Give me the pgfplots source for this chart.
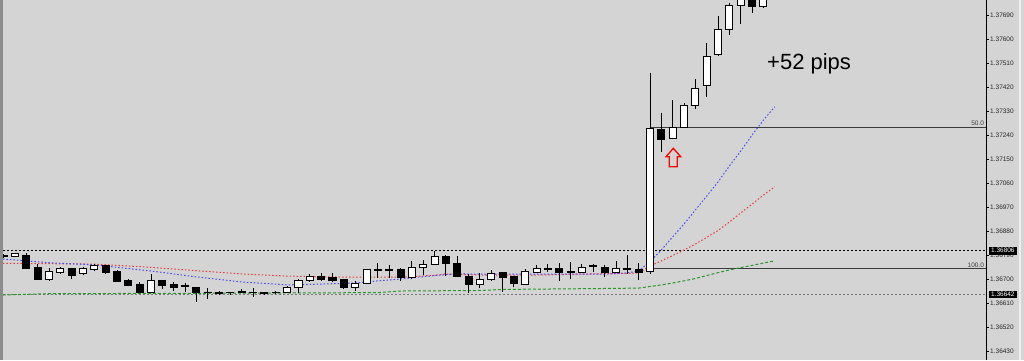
\documentclass[border=0pt]{standalone}
\usepackage{pgfplots}
\usepackage{pgfplotstable}
\pgfplotsset{compat=1.18}
\usepackage{fontspec}
\setmainfont{Liberation Sans}
\definecolor{bg}{RGB}{212,212,212}
\definecolor{leftbar}{RGB}{140,140,140}
\definecolor{fibcol}{RGB}{60,60,60}
\definecolor{mablue}{RGB}{70,70,255}
\definecolor{mared}{RGB}{235,60,60}
\definecolor{magreen}{RGB}{40,150,40}
\definecolor{lvlgray}{RGB}{120,120,120}
% bullish candles: bar index, open, high, low, close
\pgfplotstableread{
k o h l c
0 1.36786 1.36798 1.36783 1.36794
3 1.36700 1.36741 1.36693 1.36730
4 1.36726 1.36745 1.36719 1.36738
6 1.36719 1.36745 1.36715 1.36738
7 1.36734 1.36756 1.36730 1.36749
12 1.36651 1.36719 1.36651 1.36696
18 1.36644 1.36655 1.36640 1.36651
20 1.36648 1.36663 1.36648 1.36655
24 1.36648 1.36674 1.36648 1.36670
25 1.36670 1.36700 1.36648 1.36693
26 1.36696 1.36719 1.36689 1.36708
30 1.36670 1.36693 1.36655 1.36685
31 1.36685 1.36734 1.36685 1.36734
35 1.36704 1.36768 1.36700 1.36745
36 1.36745 1.36771 1.36715 1.36756
37 1.36756 1.36805 1.36756 1.36783
41 1.36681 1.36723 1.36666 1.36700
42 1.36700 1.36734 1.36693 1.36719
45 1.36681 1.36738 1.36681 1.36730
46 1.36726 1.36753 1.36723 1.36738
50 1.36723 1.36756 1.36723 1.36745
53 1.36726 1.36768 1.36726 1.36738
56 1.36727 1.37473 1.36718 1.37263
58 1.37226 1.37371 1.37226 1.37267
59 1.37267 1.37359 1.37267 1.37349
60 1.37350 1.37449 1.37336 1.37416
61 1.37424 1.37584 1.37384 1.37536
62 1.37543 1.37687 1.37536 1.37636
63 1.37636 1.37734 1.37615 1.37725
64 1.37725 1.37784 1.37655 1.37765
66 1.37721 1.37784 1.37716 1.37765
}\bulls
% bearish candles: bar index, open, high, low, close
\pgfplotstableread{
k o h l c
-1 1.36790 1.36794 1.36779 1.36783
1 1.36790 1.36798 1.36741 1.36741
2 1.36745 1.36756 1.36700 1.36700
5 1.36741 1.36741 1.36700 1.36715
8 1.36749 1.36749 1.36719 1.36726
9 1.36730 1.36734 1.36689 1.36689
10 1.36693 1.36700 1.36674 1.36674
11 1.36678 1.36689 1.36648 1.36648
13 1.36696 1.36696 1.36663 1.36674
14 1.36678 1.36689 1.36655 1.36670
15 1.36675 1.36685 1.36651 1.36673
16 1.36670 1.36670 1.36614 1.36648
17 1.36651 1.36666 1.36625 1.36648
19 1.36651 1.36651 1.36640 1.36648
21 1.36651 1.36666 1.36633 1.36648
22 1.36648 1.36651 1.36640 1.36644
23 1.36651 1.36655 1.36644 1.36648
27 1.36708 1.36723 1.36693 1.36700
28 1.36704 1.36723 1.36689 1.36696
29 1.36700 1.36700 1.36663 1.36670
32 1.36735 1.36760 1.36704 1.36733
33 1.36735 1.36753 1.36704 1.36733
34 1.36734 1.36741 1.36693 1.36704
38 1.36783 1.36790 1.36711 1.36760
39 1.36760 1.36786 1.36711 1.36711
40 1.36708 1.36719 1.36648 1.36681
43 1.36723 1.36723 1.36651 1.36704
44 1.36708 1.36708 1.36670 1.36685
47 1.36741 1.36756 1.36726 1.36734
48 1.36741 1.36760 1.36693 1.36723
49 1.36727 1.36764 1.36700 1.36725
51 1.36750 1.36756 1.36726 1.36748
52 1.36745 1.36753 1.36708 1.36726
54 1.36738 1.36790 1.36719 1.36734
55 1.36734 1.36760 1.36696 1.36723
57 1.37259 1.37324 1.37177 1.37225
65 1.37758 1.37776 1.37699 1.37721
}\bears
\pgfplotsset{
  cbar/.style={draw=none, mark=none, forget plot,
    error bars/.cd, y dir=plus, y explicit, error mark=none,
    error bar style={draw=black, line width=1pt, solid}},
  cfill/.style={draw=none, mark=none, forget plot,
    error bars/.cd, y dir=plus, y explicit, error mark=none,
    error bar style={draw=#1, line width=7pt, solid}},
  ccap/.style={draw=none, mark=none, forget plot,
    error bars/.cd, x dir=both, x explicit, error mark=none,
    error bar style={draw=black, line width=1pt, solid}},
}
\newcommand{\candles}[2]{%
  \addplot[cbar] table[x=k, y=l, y error expr=\thisrow{h}-\thisrow{l}] {#1};
  \addplot[cfill=#2] table[x=k, y expr={min(\thisrow{o},\thisrow{c})}, y error expr={abs(\thisrow{c}-\thisrow{o})}] {#1};
  \addplot[cbar] table[x expr=\thisrow{k}-0.31, y expr={min(\thisrow{o},\thisrow{c})}, y error expr={abs(\thisrow{c}-\thisrow{o})}] {#1};
  \addplot[cbar] table[x expr=\thisrow{k}+0.31, y expr={min(\thisrow{o},\thisrow{c})}, y error expr={abs(\thisrow{c}-\thisrow{o})}] {#1};
  \addplot[ccap] table[x=k, y=o, x error expr=0.354] {#1};
  \addplot[ccap] table[x=k, y=c, x error expr=0.354] {#1};
}
\begin{document}
\begin{tikzpicture}
\useasboundingbox (0,0) rectangle (1024pt,360pt);
\fill[bg] (0,0) rectangle (1024pt,360pt);
\fill[leftbar] (0,0) rectangle (2.5pt,360pt);
\fill[white!60!bg] (1019pt,0) rectangle (1020.5pt,360pt);
\begin{axis}[
  at={(3pt,0pt)}, anchor=south west,
  width=983pt, height=360pt, scale only axis,
  xmin=-1.058, xmax=85.63, ymin=1.363963, ymax=1.377463,
  axis x line=none, axis y line*=right,
  axis line style={black, line width=0.8pt, -},
  ytick={1.36430,1.36520,1.36610,1.36700,1.36790,1.36880,1.36970,1.37060,1.37150,1.37240,1.37330,1.37420,1.37510,1.37600,1.37690},
  yticklabels={1.36430,1.36520,1.36610,1.36700,1.36790,1.36880,1.36970,1.37060,1.37150,1.37240,1.37330,1.37420,1.37510,1.37600,1.37690},
  yticklabel style={font=\fontsize{6.5}{7}\selectfont, text=black!85, anchor=west, inner sep=1pt, xshift=0.5pt},
  tick align=outside, major tick length=2.5pt, tick style={black, line width=0.6pt},
  clip mode=individual,
]
% level lines
\addplot[black, line width=0.8pt, dash pattern=on 2pt off 2pt] coordinates {(-1.058,1.36806) (85.63,1.36806)};
\addplot[lvlgray, line width=1pt, dash pattern=on 2pt off 2pt] coordinates {(-1.058,1.36642) (85.63,1.36642)};
% fibonacci lines
\addplot[fibcol, line width=1pt] coordinates {(56,1.37270) (85.63,1.37270)};
\addplot[fibcol, line width=1pt] coordinates {(56,1.36738) (85.63,1.36738)};
% moving averages
\addplot[magreen, line width=1pt, dash pattern=on 3pt off 2pt] coordinates {
(-1.06,1.36640) (3,1.36645) (20,1.36647) (32,1.36649) (34,1.36655) (41,1.36657) (43,1.36661) (51,1.36664) (55,1.36666)
(56,1.36672) (57,1.36678) (58,1.36685) (59,1.36693) (60,1.36702) (61,1.36713) (62,1.36724) (63,1.36734) (64,1.36743) (65,1.36751) (66,1.36760) (67,1.36768)};
\addplot[mared, line width=1pt, dash pattern=on 1.5pt off 2pt] coordinates {
(-1.06,1.36759) (7,1.36756) (12,1.36744) (16,1.36731) (20,1.36719) (24,1.36711) (29,1.36707) (34,1.36707) (37,1.36714) (38,1.36719) (41,1.36715) (46,1.36715) (52,1.36720) (55,1.36722)
(56,1.36749) (57,1.36768) (58,1.36788) (59,1.36809) (60,1.36831) (61,1.36856) (62,1.36882) (63,1.36914) (64,1.36948) (65,1.36981) (66,1.37015) (67,1.37046)};
\addplot[mablue, line width=1pt, dash pattern=on 1.5pt off 2pt] coordinates {
(-1.06,1.36775) (3,1.36761) (7,1.36753) (12,1.36730) (16,1.36708) (20,1.36689) (24,1.36678) (27,1.36681) (30,1.36685) (32,1.36693) (34,1.36700) (37,1.36713) (39,1.36719) (43,1.36718) (52,1.36718) (54,1.36723) (55,1.36730)
(56,1.36766) (57,1.36809) (58,1.36858) (59,1.36906) (60,1.36959) (61,1.37011) (62,1.37064) (63,1.37124) (64,1.37180) (65,1.37240) (66,1.37296) (67,1.37346)};
% candles
\candles{\bulls}{white}
\candles{\bears}{black}
% labels
\node[anchor=south east, inner sep=1pt, text=fibcol, font=\fontsize{6.5}{7}\selectfont] at (axis cs:85.55,1.37270) {50.0};
\node[anchor=south east, inner sep=1pt, text=fibcol, font=\fontsize{6.5}{7}\selectfont] at (axis cs:85.55,1.36738) {100.0};
\node[anchor=west, fill=black, text=white, inner xsep=2.6pt, inner ysep=1.6pt, font=\fontsize{6.5}{7}\selectfont, xshift=2.3pt] at (axis cs:85.63,1.36806) {1.36806};
\node[anchor=west, fill=black, text=white, inner xsep=2.6pt, inner ysep=1.6pt, font=\fontsize{6.5}{7}\selectfont, xshift=2.3pt] at (axis cs:85.63,1.36642) {1.36642};
\end{axis}
\node[anchor=base west, inner sep=0pt, font=\fontsize{22}{24}\selectfont] at (767pt,291pt) {+52 pips};
\draw[red, line width=1.3pt, line join=miter] (673.3pt,211.7pt) -- (666pt,203.3pt) -- (669.3pt,203.3pt) -- (669.3pt,193.3pt) -- (677.3pt,193.3pt) -- (677.3pt,203.3pt) -- (680.7pt,203.3pt) -- cycle;
\end{tikzpicture}
\end{document}
